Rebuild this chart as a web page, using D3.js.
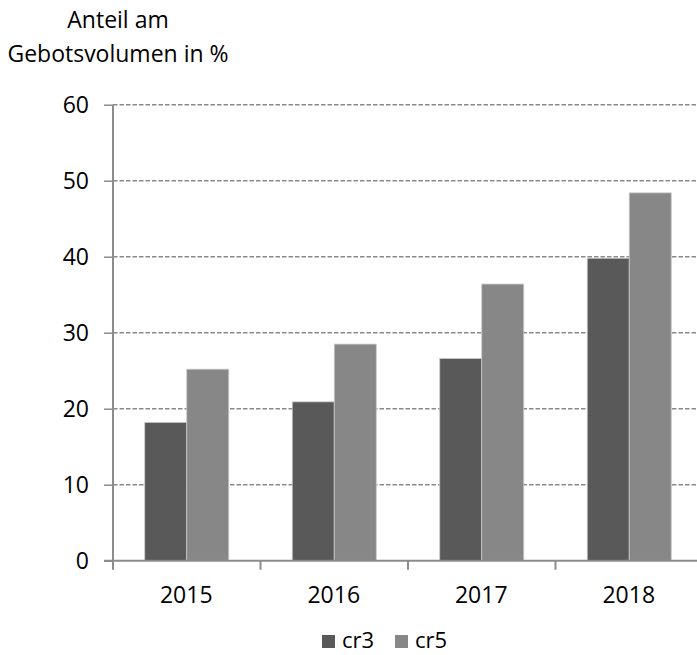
<!DOCTYPE html>
<html>
<head>
<meta charset="utf-8">
<script src="https://cdn.jsdelivr.net/npm/d3@7"></script>
<style>
  html, body { margin: 0; padding: 0; background: #fff; }
  svg { display: block; }
  text { font-family: "Open Sans", "Noto Sans", sans-serif; fill: #000; }
</style>
</head>
<body>
<svg id="chart" width="697" height="655"></svg>
<script>
const categories = ["2015", "2016", "2017", "2018"];
const seriesNames = ["cr3", "cr5"];
const cr3 = [18.2, 20.9, 26.6, 39.8];
const cr5 = [25.2, 28.5, 36.4, 48.4];
const yTicks = [0, 10, 20, 30, 40, 50, 60];
const titleLines = ["Anteil am", "Gebotsvolumen in %"];
const colors = { cr3: "#595959", cr5: "#878787" };

const svg = d3.select("#chart");
const x0 = 113, x1 = 703, yBottom = 560.7, yTop = 104.7;

const x = d3.scaleBand().domain(categories).range([x0, x1]).paddingInner(0).paddingOuter(0);
const xs = d3.scaleBand().domain(seriesNames).range([0, x.bandwidth()]).paddingInner(0).paddingOuter(0.756);
const y = d3.scaleLinear().domain([0, 60]).range([yBottom, yTop]);

const axisColor = "#8c8c8c";

// gridlines
svg.append("g").selectAll("line").data(yTicks.filter(d => d > 0)).join("line")
  .attr("x1", x0).attr("x2", 697)
  .attr("y1", d => y(d)).attr("y2", d => y(d))
  .attr("stroke", "#8a8a8a").attr("stroke-width", 1.6)
  .attr("stroke-dasharray", "4.5,2");

// bars
const data = categories.map((c, i) => ({ cat: c, vals: [{ s: "cr3", v: cr3[i] }, { s: "cr5", v: cr5[i] }] }));
const g = svg.append("g").selectAll("g").data(data).join("g")
  .attr("transform", d => `translate(${x(d.cat)},0)`);
g.selectAll("rect").data(d => d.vals).join("rect")
  .attr("x", d => xs(d.s)).attr("width", xs.bandwidth())
  .attr("y", d => y(d.v)).attr("height", d => y(0) - y(d.v))
  .attr("fill", d => colors[d.s])
  .attr("stroke", "#c8c8c8").attr("stroke-width", 0.8);

// y axis
const yAxis = d3.axisLeft(y).tickValues(yTicks).tickSize(9).tickPadding(15).tickFormat(d3.format("d"));
const ya = svg.append("g").attr("transform", `translate(${x0},0)`).call(yAxis);
ya.select(".domain").remove();
ya.selectAll(".tick line").attr("stroke", axisColor).attr("stroke-width", 1.5);
ya.selectAll(".tick text").style("font-size", "23px").attr("font-family", null).attr("fill", "#000");
svg.append("line").attr("x1", x0).attr("x2", x0).attr("y1", yTop).attr("y2", yBottom + 9)
  .attr("stroke", axisColor).attr("stroke-width", 2);

// x axis
svg.append("line").attr("x1", x0 - 9).attr("x2", 697).attr("y1", yBottom).attr("y2", yBottom)
  .attr("stroke", axisColor).attr("stroke-width", 2);
svg.append("g").selectAll("line").data(categories.slice(1)).join("line")
  .attr("x1", d => x(d)).attr("x2", d => x(d))
  .attr("y1", yBottom).attr("y2", yBottom + 9)
  .attr("stroke", axisColor).attr("stroke-width", 2);
svg.append("g").selectAll("text").data(categories).join("text")
  .attr("x", d => x(d) + x.bandwidth() / 2 - 0.5).attr("y", 603)
  .attr("text-anchor", "middle").style("font-size", "23px").text(d => d);

// title
svg.append("g").selectAll("text").data(titleLines).join("text")
  .attr("x", 118).attr("y", (d, i) => 28 + i * 34)
  .attr("text-anchor", "middle").style("font-size", "23px").text(d => d);

// legend
const legX = [322, 395];
const lg = svg.append("g").selectAll("g").data(seriesNames).join("g")
  .attr("transform", (d, i) => `translate(${legX[i]},635)`);
lg.append("rect").attr("width", 13).attr("height", 13).attr("fill", d => colors[d]);
lg.append("text").attr("x", 20).attr("y", 13).style("font-size", "22px").text(d => d);
</script>
</body>
</html>
